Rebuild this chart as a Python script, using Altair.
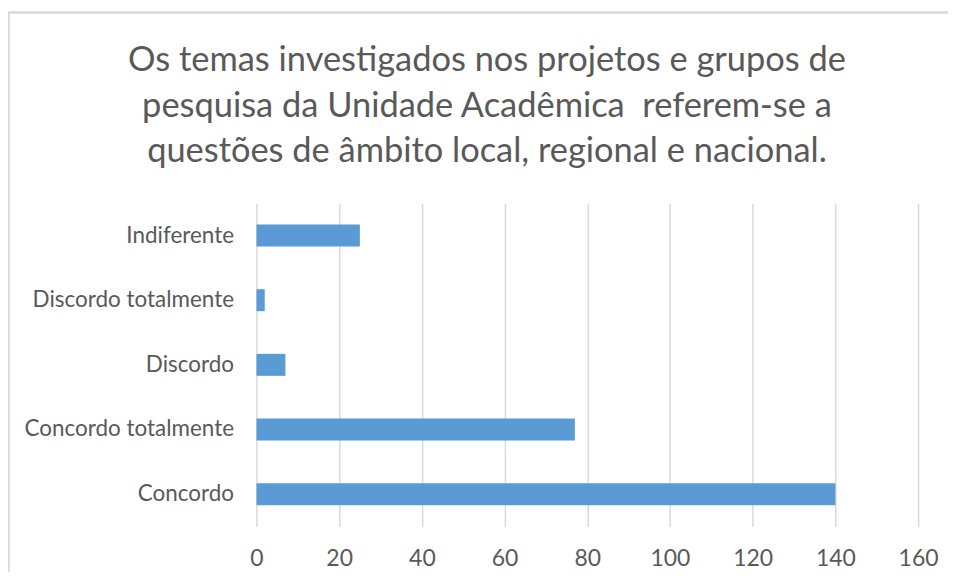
import altair as alt
import pandas as pd

categories = ["Indiferente", "Discordo totalmente", "Discordo", "Concordo totalmente", "Concordo"]
values = [25, 2, 7, 77, 140]
title_lines = ["Os temas investigados nos projetos e grupos de",
               "pesquisa da Unidade Acadêmica \u00a0referem-se a",
               "questões de âmbito local, regional e nacional."]

df = pd.DataFrame({"cat": categories, "val": values})
tdf = pd.DataFrame({"t": ["\n".join(title_lines)]})
FONT = "Lato"
GRAY = "#595959"

bars = alt.Chart(df).mark_bar(color="#5b9bd5").encode(
    x=alt.X("val:Q", scale=alt.Scale(domain=[0, 160], nice=False),
            axis=alt.Axis(values=[0, 20, 40, 60, 80, 100, 120, 140, 160], title=None,
                          domain=False, ticks=False, labelPadding=21, labelFontSize=23,
                          labelColor=GRAY, labelFont=FONT, grid=True, labelFlush=False,
                          gridColor="#d9d9d9", gridWidth=1.5)),
    y=alt.Y("cat:N", sort=categories,
            scale=alt.Scale(paddingInner=0.66, paddingOuter=0.33),
            axis=alt.Axis(title=None, domain=False, ticks=False, labelPadding=23,
                          labelFontSize=22.5, labelColor=GRAY, labelFont=FONT, labelLimit=400)),
)

title = alt.Chart(tdf).mark_text(
    font=FONT, fontSize=34.5, color=GRAY, align="center", baseline="top",
    lineBreak="\n", lineHeight=45.5
).encode(text="t:N", x=alt.value(231), y=alt.value(-159))

border = alt.Chart(df).mark_rule(color="#d9d9d9", strokeWidth=1.5).encode(
    x=alt.value(-248.5), y=alt.value(-191), y2=alt.value(420)
)
border_top = alt.Chart(df).mark_rule(color="#d9d9d9", strokeWidth=1.5).encode(
    x=alt.value(-249), x2=alt.value(720), y=alt.value(-191)
)

chart = alt.layer(border, border_top, title, bars).properties(
    width=663, height=324,
    autosize=alt.AutoSizeParams(type="none"),
    padding={"left": 249, "top": 195, "right": 30, "bottom": 45},
).configure_view(stroke=None)

chart.save("out.html", embed_options={"renderer": "svg", "actions": False})
